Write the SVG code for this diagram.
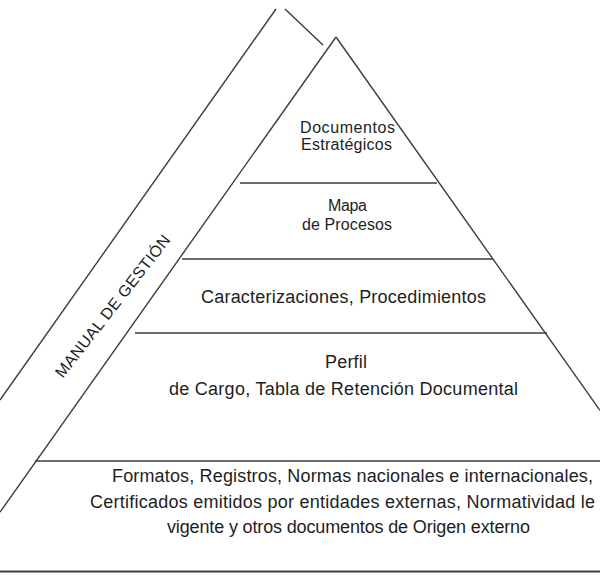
<svg xmlns="http://www.w3.org/2000/svg" width="600" height="588" viewBox="0 0 600 588">
<style>
.ln{stroke:#3c3c3c;stroke-width:1.4;fill:none;stroke-linecap:butt}
.bold{stroke:#3c3c3c;stroke-width:2;fill:none}
.t{font-family:"Liberation Sans",Arial,sans-serif;fill:#1e1e1e}
.s16{font-size:16px}
.s18{font-size:18px}
</style>
<rect width="600" height="588" fill="#ffffff"/>
<g id="connectors">
<line class="ln" x1="336" y1="37" x2="0" y2="512.2"/>
<line class="ln" x1="336" y1="37" x2="600" y2="410.4"/>
<line class="ln" x1="276" y1="9" x2="0" y2="400"/>
<line class="ln" x1="285" y1="9" x2="323" y2="45"/>
<line class="ln" x1="240" y1="183" x2="437" y2="183"/>
<line class="ln" x1="182" y1="259" x2="493" y2="259"/>
<line class="ln" x1="135" y1="333" x2="547" y2="333"/>
<line class="ln" x1="35" y1="461" x2="600" y2="461"/>
<line class="bold" x1="0" y1="571.5" x2="600" y2="571.5"/>
</g>
<g id="manual">
<text class="t s16" x="117" y="309.5" text-anchor="middle" textLength="176" lengthAdjust="spacing" transform="rotate(-52 117 309.5)">MANUAL DE GESTIÓN</text>
</g>
<g id="level1">
<text class="t s16" x="300" y="133" textLength="95" lengthAdjust="spacing">Documentos</text>
<text class="t s16" x="301" y="149.5" textLength="91" lengthAdjust="spacing">Estratégicos</text>
</g>
<g id="level2">
<text class="t s16" x="328" y="211" textLength="39" lengthAdjust="spacing">Mapa</text>
<text class="t s16" x="302" y="230" textLength="90" lengthAdjust="spacing">de Procesos</text>
</g>
<g id="level3">
<text class="t s18" x="201" y="302.5" textLength="285" lengthAdjust="spacing">Caracterizaciones, Procedimientos</text>
</g>
<g id="level4">
<text class="t s18" x="325" y="367.5" textLength="42" lengthAdjust="spacing">Perfil</text>
<text class="t s18" x="169" y="395" textLength="349" lengthAdjust="spacing">de Cargo, Tabla de Retención Documental</text>
</g>
<g id="level5">
<text class="t s18" x="112" y="482" textLength="481" lengthAdjust="spacing">Formatos, Registros, Normas nacionales e internacionales,</text>
<text class="t s18" x="90" y="508" textLength="505" lengthAdjust="spacing">Certificados emitidos por entidades externas, Normatividad le</text>
<text class="t s18" x="167" y="533" textLength="363" lengthAdjust="spacing">vigente y otros documentos de Origen externo</text>
</g>
</svg>
